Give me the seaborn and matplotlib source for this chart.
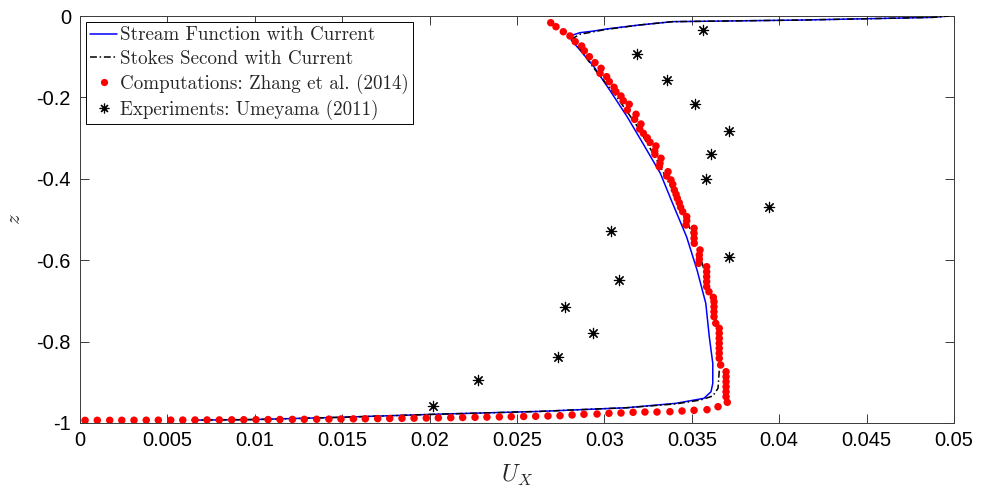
import matplotlib
matplotlib.use("Agg")
import matplotlib.pyplot as plt
from matplotlib.ticker import FixedLocator, FuncFormatter
from matplotlib.lines import Line2D
import seaborn as sns

# Stream function solution with current
sf_u = [0.0064, 0.0100, 0.0149, 0.0202, 0.0263, 0.0313, 0.0341, 0.0357, 0.0361,
        0.0362, 0.0362, 0.0360, 0.0358, 0.0353, 0.0347, 0.0339, 0.0332, 0.0322,
        0.0313, 0.0303, 0.0294, 0.0286, 0.0281, 0.0282, 0.0286, 0.0294, 0.0301,
        0.0320, 0.0339, 0.0412, 0.0470, 0.0488, 0.0497]
sf_z = [-0.9930, -0.9915, -0.9860, -0.9787, -0.9715, -0.9624, -0.9516, -0.9393, -0.9231,
        -0.9025, -0.8533, -0.7880, -0.7059, -0.6241, -0.5423, -0.4602, -0.3865, -0.3128,
        -0.2474, -0.1818, -0.1246, -0.0835, -0.0590, -0.0467, -0.0410, -0.0369, -0.0320,
        -0.0221, -0.0139, -0.0100, -0.0050, -0.0033, 0.0]

# Stokes second-order solution with current
st_u = [0.0064, 0.0100, 0.0149, 0.0202, 0.0263, 0.0313, 0.0341, 0.0355, 0.0362,
        0.0365, 0.0366, 0.0365, 0.0361, 0.0355, 0.0347, 0.0339, 0.0330, 0.0319,
        0.0307, 0.0294, 0.0283, 0.0282, 0.0286, 0.0294, 0.0301, 0.0320, 0.0339,
        0.0412, 0.0470, 0.0488, 0.0497]
st_z = [-0.9930, -0.9915, -0.9860, -0.9787, -0.9715, -0.9624, -0.9530, -0.9435, -0.9337,
        -0.9147, -0.8533, -0.7715, -0.6897, -0.5914, -0.5012, -0.4275, -0.3538, -0.2720,
        -0.1983, -0.1285, -0.0631, -0.0548, -0.0450, -0.0385, -0.0330, -0.0221, -0.0139,
        -0.0100, -0.0050, -0.0033, 0.0]

# Computations: Zhang et al. (2014)
zh_u = [0.02693, 0.02723, 0.02765, 0.02803, 0.02833, 0.02870, 0.02885, 0.02914, 0.02946,
        0.02981, 0.02975, 0.03013, 0.03028, 0.03055, 0.03066, 0.03095, 0.03108, 0.03142,
        0.03131, 0.03181, 0.03173, 0.03209, 0.03202, 0.03223, 0.03245, 0.03261, 0.03295,
        0.03288, 0.03289, 0.03324, 0.03318, 0.03314, 0.03364, 0.03356, 0.03381, 0.03391,
        0.03400, 0.03410, 0.03417, 0.03428, 0.03436,
        0.03448, 0.03471, 0.03471, 0.03467, 0.03513, 0.03513, 0.03513, 0.03514, 0.03547,
        0.03543, 0.03543, 0.03539, 0.03585, 0.03585, 0.03585, 0.03585, 0.03585, 0.03598,
        0.03623, 0.03627, 0.03627, 0.03627, 0.03627, 0.03637, 0.03657, 0.03657, 0.03657,
        0.03657, 0.03657, 0.03657, 0.03657, 0.03665, 0.03696, 0.03696, 0.03696, 0.03696,
        0.03696, 0.03696, 0.03703,
        0.03650, 0.03587, 0.03513, 0.03444, 0.03375, 0.03301, 0.03232, 0.03164, 0.03095,
        0.03026, 0.02958, 0.02883, 0.02815, 0.02746, 0.02677,
        0.02607, 0.02538, 0.02467, 0.02399, 0.02328, 0.02260, 0.02189, 0.02121, 0.02050,
        0.01981, 0.01911, 0.01842, 0.01772, 0.01703, 0.01632, 0.01564, 0.01493, 0.01424,
        0.01354, 0.01283, 0.01215, 0.01144, 0.01076, 0.01007, 0.00937, 0.00868, 0.00797,
        0.00727, 0.00658, 0.00588, 0.00519, 0.00448, 0.00379, 0.00309, 0.00239, 0.00170,
        0.00099, 0.00029]
zh_z = [-0.0165, -0.0263, -0.0386, -0.0491, -0.0631, -0.0737, -0.0853, -0.1000, -0.1147,
        -0.1285, -0.1408, -0.1491, -0.1614, -0.1752, -0.1860, -0.1966, -0.2081, -0.2170,
        -0.2310, -0.2415, -0.2538, -0.2654, -0.2776, -0.2882, -0.2990, -0.3103, -0.3194,
        -0.3317, -0.3398, -0.3496, -0.3619, -0.3703, -0.3826, -0.3931, -0.4029, -0.4135,
        -0.4275, -0.4381, -0.4479, -0.4587, -0.4700,
        -0.4808, -0.4931, -0.5029, -0.5135, -0.5216, -0.5339, -0.5462, -0.5585, -0.5749,
        -0.5872, -0.5978, -0.6076, -0.6160, -0.6283, -0.6405, -0.6528, -0.6651, -0.6774,
        -0.6912, -0.7020, -0.7143, -0.7265, -0.7388, -0.7550, -0.7673, -0.7796, -0.7919,
        -0.8042, -0.8165, -0.8287, -0.8410, -0.8575, -0.8740, -0.8862, -0.8985, -0.9108,
        -0.9231, -0.9354, -0.9491,
        -0.9600, -0.9673, -0.9688, -0.9705, -0.9722, -0.9730, -0.9730, -0.9737, -0.9754,
        -0.9762, -0.9779, -0.9786, -0.9803, -0.9821, -0.9828,
        -0.9835, -0.9840, -0.9845, -0.9850, -0.9855, -0.9860, -0.9865, -0.9870, -0.9874,
        -0.9878, -0.9882, -0.9886, -0.9890, -0.9893, -0.9896, -0.9899, -0.9902, -0.9905,
        -0.9908, -0.9910, -0.9912, -0.9914, -0.9916, -0.9918, -0.9920, -0.9922, -0.9924,
        -0.9925, -0.9926, -0.9928, -0.9929, -0.9930, -0.9931, -0.9932, -0.9933, -0.9934,
        -0.9934, -0.9935]

# Experiments: Umeyama (2011)
um_u = [0.03566, 0.03185, 0.03356, 0.03518, 0.03711, 0.03608, 0.03580, 0.03943,
        0.03036, 0.03711, 0.03084, 0.02776, 0.02936, 0.02733, 0.02279, 0.02018]
um_z = [-0.0344, -0.0941, -0.1572, -0.2170, -0.2818, -0.3398, -0.4005, -0.4686,
        -0.5275, -0.5914, -0.6486, -0.7143, -0.7781, -0.8386, -0.8943, -0.9582]

labels = ["Stream Function with Current", "Stokes Second with Current",
          "Computations: Zhang et al. (2014)", "Experiments: Umeyama (2011)"]

x_ticks = [0, 0.005, 0.01, 0.015, 0.02, 0.025, 0.03, 0.035, 0.04, 0.045, 0.05]
y_ticks = [-1, -0.8, -0.6, -0.4, -0.2, 0]

sns.set_theme(style="ticks")
plt.rcParams["mathtext.fontset"] = "cm"
plt.rcParams["font.family"] = ["Liberation Sans", "DejaVu Sans"]

fig = plt.figure(figsize=(9.91, 4.93), dpi=100)
ax = fig.add_axes([80 / 991, 70 / 493, 874 / 991, 407 / 493])

dashdot = (0, (4.5, 1.8, 1.0, 1.8))
sns.lineplot(x=sf_u, y=sf_z, sort=False, estimator=None, ax=ax,
             color=(0, 0, 1), linewidth=1.1, zorder=2)
sns.lineplot(x=st_u, y=st_z, sort=False, estimator=None, ax=ax,
             color="black", linewidth=1.1, linestyle=dashdot, zorder=3)
sns.scatterplot(x=zh_u, y=zh_z, ax=ax, color=(1, 0, 0), s=29,
                edgecolor="none", zorder=4)
sns.scatterplot(x=um_u, y=um_z, ax=ax, marker=(8, 2, 0), s=55,
                color="black", linewidth=0.85, zorder=5)

ax.set_xlim(0, 0.05)
ax.set_ylim(-1, 0)
ax.xaxis.set_major_locator(FixedLocator(x_ticks))
ax.yaxis.set_major_locator(FixedLocator(y_ticks))
fmt = FuncFormatter(lambda v, p: ("%g" % round(v, 4)).replace("\u2212", "-"))
ax.xaxis.set_major_formatter(fmt)
ax.yaxis.set_major_formatter(fmt)

spine_col = "#3a3a3a"
for s in ax.spines.values():
    s.set_visible(True)
    s.set_color(spine_col)
    s.set_linewidth(0.7)
ax.tick_params(axis="both", which="major", direction="in", length=6.3,
               width=0.7, color=spine_col, labelsize=14.4, labelcolor="black",
               top=True, right=True)
ax.tick_params(axis="x", pad=6)
ax.tick_params(axis="y", pad=6.5)

ax.set_xlabel(r"$U_X$", fontsize=17, labelpad=9)
ax.set_ylabel(r"$z$", fontsize=15, labelpad=9)
ax.grid(False)

handles = [
    Line2D([], [], color=(0, 0, 1), linewidth=1.1),
    Line2D([], [], color="black", linewidth=1.1, linestyle=dashdot),
    Line2D([], [], color=(1, 0, 0), marker="o", linestyle="none",
           markersize=5.2, markeredgecolor="none"),
    Line2D([], [], color="black", marker=(8, 2, 0), linestyle="none",
           markersize=7, markeredgewidth=0.85),
]
leg = ax.legend(handles, labels, loc="upper left", frameon=True, fancybox=False,
                prop={"family": "cmr10", "size": 13.7}, handlelength=1.4,
                handletextpad=0.15, borderpad=0.25, labelspacing=0.3,
                borderaxespad=0.3, edgecolor="black", framealpha=1)
leg.get_frame().set_linewidth(0.7)

fig.savefig("out.png", dpi=100, facecolor="white")
